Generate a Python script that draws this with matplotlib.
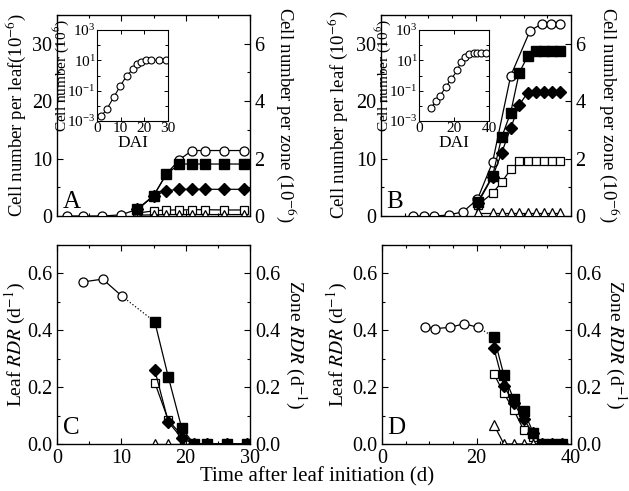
import numpy as np
import matplotlib.pyplot as plt
from matplotlib.ticker import MultipleLocator, FixedLocator, NullFormatter, LogFormatterMathtext

plt.rcParams['font.family'] = ['Liberation Serif', 'DejaVu Serif']
plt.rcParams['mathtext.fontset'] = 'stix'
plt.rcParams['xtick.direction'] = 'in'
plt.rcParams['ytick.direction'] = 'in'

# panel A - cells per leaf (left axis) and per zone (right axis)
tA = [1.5, 4, 7, 10, 12.5, 15, 17, 19, 21, 23, 26, 29]
leafA = [0, 0, 0, 0.2, 1.2, 3.5, 7.3, 9.8, 11.4, 11.4, 11.4, 11.4]
tzA = [12.5, 15, 17, 19, 21, 23, 26, 29]
sqA = [0.23, 0.70, 1.46, 1.81, 1.81, 1.81, 1.81, 1.81]
diaA = [0.23, 0.70, 0.88, 0.93, 0.93, 0.93, 0.93, 0.93]
osqA = [0.10, 0.18, 0.21, 0.21, 0.22, 0.22, 0.21, 0.21]
triA = [0.03, 0.04, 0.05, 0.05, 0.05, 0.05, 0.05, 0.05]
# inset A (log)
tiA = [1.7, 4.2, 7.0, 9.8, 12.6, 15.1, 16.7, 18.5, 20.6, 23.0, 26.0, 29.0]
logA = [-2.7, -2.2, -1.45, -0.7, 0.0, 0.4, 0.75, 0.9, 1.0, 1.0, 1.0, 1.0]

# panel B
tB = [6.8, 9.1, 11.2, 14.3, 17.3, 20.3, 23.5, 27.3, 31.4, 33.8, 35.8, 37.7]
leafB = [0, 0, 0, 0.17, 0.75, 2.9, 9.4, 24.4, 32.3, 33.4, 33.4, 33.4]
tzB = [20.4, 23.5, 25.4, 27.3, 29.1, 30.9, 32.6, 34.3, 36.0, 37.7]
sqB = [0.5, 1.4, 2.74, 3.6, 4.99, 5.57, 5.76, 5.76, 5.76, 5.76]
diaB = [0.45, 1.37, 2.2, 3.06, 3.87, 4.3, 4.33, 4.33, 4.33, 4.33]
osqB = [0.38, 0.8, 1.18, 1.62, 1.9, 1.9, 1.9, 1.9, 1.9, 1.9]
triB = [0.1, 0.1, 0.1, 0.1, 0.1, 0.1, 0.1, 0.1, 0.1, 0.1]
tiB = [6.8, 9.8, 12.1, 15.2, 18.5, 21.9, 23.8, 26.3, 28.7, 31.2, 33.2, 35.5, 38.0]
logB = [-2.15, -1.67, -1.33, -0.78, -0.22, 0.33, 0.89, 1.22, 1.45, 1.51, 1.51, 1.51, 1.51]

# panel C - RDR
tlC = [4.0, 7.1, 10.1]
leafC = [0.57, 0.58, 0.52]
tzC = [15.2, 17.3, 19.4, 21.3, 23.3, 26.4, 29.5]
sqC = [0.43, 0.236, 0.055, 0, 0, 0, 0]
diaC = [0.26, 0.078, 0.02, 0, 0, 0, 0]
osqC = [0.216, 0.084, 0.03, 0, 0, 0, 0]
triC = [0, 0, 0, 0, 0, 0, 0]

# panel D
tlD = [9.1, 11.2, 14.3, 17.4, 20.4]
leafD = [0.41, 0.406, 0.41, 0.423, 0.41]
tzD = [23.7, 25.8, 27.9, 30.0, 32.0, 33.9, 35.9, 38.0]
sqD = [0.376, 0.242, 0.157, 0.117, 0.04, 0, 0, 0]
diaD = [0.336, 0.204, 0.143, 0.087, 0.037, 0, 0, 0]
osqD = [0.246, 0.178, 0.119, 0.049, 0.026, 0, 0, 0]
triD = [0.067, 0, 0, 0, 0, 0, 0, 0]

W, H = 629, 491
fig = plt.figure(figsize=(6.29, 4.91), dpi=100)


def rect(x0, y0, x1, y1):
    return [x0 / W, 1 - y1 / H, (x1 - x0) / W, (y1 - y0) / H]


lw = 0.9
ms = 6.5
fs = 14.5


def zones(ax, t, sq, dia, osq, tri):
    ax.plot(t, osq, '-', color='k', lw=lw, marker='s', ms=6, mfc='white', mec='k', mew=0.9)
    ax.plot(t, tri, '-', color='k', lw=lw, marker='^', ms=6.5, mfc='white', mec='k', mew=0.9)
    ax.plot(t, dia, '-', color='k', lw=lw, marker='D', ms=6, mfc='k', mec='k')
    ax.plot(t, sq, '-', color='k', lw=lw, marker='s', ms=6.5, mfc='k', mec='k')


def style(ax, xmaj, xmin):
    ax.xaxis.set_major_locator(MultipleLocator(xmaj))
    ax.xaxis.set_minor_locator(MultipleLocator(xmin))
    ax.tick_params(which='both', top=True, labelsize=fs, length=4, width=0.8)
    ax.tick_params(which='minor', length=2.5)
    for s in ax.spines.values():
        s.set_linewidth(0.9)


def inset(r, t, lg, xmax, xstep):
    ai = fig.add_axes(r)
    ai.plot(t, 10 ** np.array(lg), '-', color='k', lw=0.8, marker='o', ms=5, mfc='white', mec='k', mew=0.8)
    ai.set_yscale('log')
    ai.set_ylim(1e-3, 1e3)
    ai.set_xlim(0, xmax)
    ai.xaxis.set_major_locator(MultipleLocator(xstep))
    ai.yaxis.set_major_locator(FixedLocator([1e-3, 1e-1, 1e1, 1e3]))
    ai.yaxis.set_major_formatter(LogFormatterMathtext())
    ai.yaxis.set_minor_locator(FixedLocator([1e-2, 1e0, 1e2]))
    ai.yaxis.set_minor_formatter(NullFormatter())
    ai.tick_params(which='both', labelsize=11, length=3, width=0.7, top=True, right=True, pad=1)
    ai.tick_params(which='minor', length=2)
    ai.set_xlabel('DAI', fontsize=12.5, labelpad=0)
    ai.set_ylabel('Cell number (10$^{6}$)', fontsize=11)
    ai.yaxis.set_label_coords(-0.37, 0.5)
    for s in ai.spines.values():
        s.set_linewidth(0.8)


# A
axA = fig.add_axes(rect(57, 15, 250, 216))
axA2 = axA.twinx()
zones(axA2, tzA, sqA, diaA, osqA, triA)
axA.plot(tA, leafA, '-', color='k', lw=lw, marker='o', ms=ms, mfc='white', mec='k', mew=0.9, zorder=3)
axA.set_xlim(0, 30)
axA.set_ylim(0, 35)
axA2.set_ylim(0, 7)
style(axA, 10, 5)
axA.yaxis.set_major_locator(MultipleLocator(10))
axA.yaxis.set_minor_locator(MultipleLocator(5))
axA2.yaxis.set_major_locator(MultipleLocator(2))
axA2.yaxis.set_minor_locator(MultipleLocator(1))
axA2.tick_params(which='both', labelsize=fs, length=4, width=0.8, pad=3)
axA2.tick_params(which='minor', length=2.5)
axA.tick_params(labelbottom=False)
axA.text(0.03, 0.04, 'A', transform=axA.transAxes, fontsize=18)
inset(rect(97, 30, 168, 121), tiA, logA, 30, 10)

# B
axB = fig.add_axes(rect(381, 15, 571, 216))
axB2 = axB.twinx()
zones(axB2, tzB, sqB, diaB, osqB, triB)
axB.plot(tB, leafB, '-', color='k', lw=lw, marker='o', ms=ms, mfc='white', mec='k', mew=0.9, zorder=3)
axB.set_xlim(0, 40)
axB.set_ylim(0, 35)
axB2.set_ylim(0, 7)
style(axB, 20, 5)
axB.yaxis.set_major_locator(MultipleLocator(10))
axB.yaxis.set_minor_locator(MultipleLocator(5))
axB2.yaxis.set_major_locator(MultipleLocator(2))
axB2.yaxis.set_minor_locator(MultipleLocator(1))
axB2.tick_params(which='both', labelsize=fs, length=4, width=0.8, pad=3)
axB2.tick_params(which='minor', length=2.5)
axB.tick_params(labelbottom=False)
axB.text(0.03, 0.04, 'B', transform=axB.transAxes, fontsize=18)
inset(rect(419, 30, 489, 121), tiB, logB, 40, 20)

# C
axC = fig.add_axes(rect(57, 245, 250, 444))
axC2 = axC.twinx()
zones(axC2, tzC, sqC, diaC, osqC, triC)
axC2.plot([tlC[-1], tzC[0]], [leafC[-1], sqC[0]], ':', color='k', lw=0.9)
axC2.plot(tlC, leafC, '-', color='k', lw=lw, marker='o', ms=ms, mfc='white', mec='k', mew=0.9)
axC.set_xlim(0, 30)
axC.set_ylim(0, 0.7)
axC2.set_ylim(0, 0.7)
style(axC, 10, 5)
for a in (axC, axC2):
    a.yaxis.set_major_locator(MultipleLocator(0.2))
    a.yaxis.set_minor_locator(MultipleLocator(0.1))
    a.yaxis.set_major_formatter('{x:.1f}')
axC2.tick_params(which='both', labelsize=fs, length=4, width=0.8)
axC2.tick_params(which='minor', length=2.5)
axC.text(0.03, 0.05, 'C', transform=axC.transAxes, fontsize=18)

# D
axD = fig.add_axes(rect(382, 245, 571, 444))
axD2 = axD.twinx()
zones(axD2, tzD, sqD, diaD, osqD, triD)
axD2.plot([tlD[-1], tzD[0]], [leafD[-1], sqD[0]], ':', color='k', lw=0.9)
axD2.plot(tlD, leafD, '-', color='k', lw=lw, marker='o', ms=ms, mfc='white', mec='k', mew=0.9)
axD.set_xlim(0, 40)
axD.set_ylim(0, 0.7)
axD2.set_ylim(0, 0.7)
style(axD, 20, 5)
for a in (axD, axD2):
    a.yaxis.set_major_locator(MultipleLocator(0.2))
    a.yaxis.set_minor_locator(MultipleLocator(0.1))
    a.yaxis.set_major_formatter('{x:.1f}')
axD2.tick_params(which='both', labelsize=fs, length=4, width=0.8)
axD2.tick_params(which='minor', length=2.5)
axD.text(0.03, 0.05, 'D', transform=axD.transAxes, fontsize=18)


# axis labels
def lab(x, y, s, rot, size=14):
    fig.text(x / W, 1 - y / H, s, rotation=rot, ha='center', va='center', fontsize=size)


lab(16, 115, 'Cell number per leaf(10$^{-6}$)', 90, 13.5)
lab(286, 115, 'Cell number per zone (10$^{-6}$)', 270, 13.5)
lab(338, 115, 'Cell number per leaf (10$^{-6}$)', 90, 13.5)
lab(609, 115, 'Cell number per zone (10$^{-6}$)', 270, 13.5)
lab(15, 345, 'Leaf $\\mathit{RDR}$ (d$^{-1}$)', 90)
lab(296, 345, 'Zone $\\mathit{RDR}$ (d$^{-1}$)', 270)
lab(337, 345, 'Leaf $\\mathit{RDR}$ (d$^{-1}$)', 90)
lab(616, 345, 'Zone $\\mathit{RDR}$ (d$^{-1}$)', 270)
lab(317, 477, 'Time after leaf initiation (d)', 0, 15)

plt.savefig('out.png', dpi=100)
